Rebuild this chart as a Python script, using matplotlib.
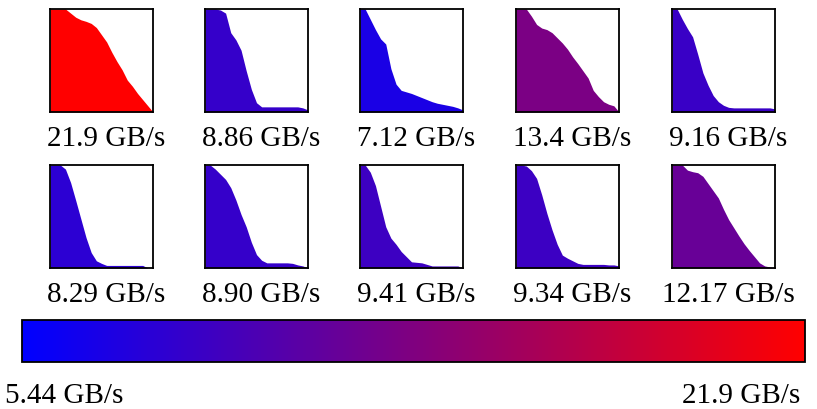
import numpy as np
import matplotlib
matplotlib.use('Agg')
from matplotlib import pyplot as plt
from matplotlib.colors import LinearSegmentedColormap, Normalize
from matplotlib.cm import ScalarMappable

plt.rcParams['font.family'] = 'Liberation Serif'

# sampled positions along each panel (fraction of width)
xs = np.linspace(0, 1, 21)

bw_labels = ['21.9', '8.86', '7.12', '13.4', '9.16',
             '8.29', '8.90', '9.41', '9.34', '12.17']
bw = [21.9, 8.86, 7.12, 13.4, 9.16, 8.29, 8.90, 9.41, 9.34, 12.17]
bw_min = 5.44
bw_max = 21.9

# curve heights (fraction of panel height) read at xs
c1 = [1.0, 1.0, 1.0, 1.0, 0.96, 0.92, 0.895, 0.88, 0.86, 0.82, 0.75,
      0.68, 0.58, 0.49, 0.41, 0.31, 0.25, 0.18, 0.12, 0.06, 0.0]
c2 = [1.0, 1.0, 1.0, 0.99, 0.96, 0.77, 0.70, 0.60, 0.40, 0.22, 0.09,
      0.05, 0.05, 0.05, 0.05, 0.05, 0.05, 0.05, 0.05, 0.04, 0.02]
c3 = [1.0, 1.0, 0.90, 0.80, 0.71, 0.66, 0.42, 0.27, 0.21, 0.195, 0.18,
      0.16, 0.14, 0.12, 0.10, 0.085, 0.075, 0.065, 0.055, 0.04, 0.02]
c4 = [1.0, 1.0, 1.0, 0.93, 0.85, 0.815, 0.80, 0.77, 0.72, 0.67, 0.61,
      0.535, 0.47, 0.40, 0.33, 0.21, 0.15, 0.10, 0.075, 0.06, 0.0]
c5 = [1.0, 1.0, 0.90, 0.81, 0.73, 0.56, 0.38, 0.26, 0.16, 0.10, 0.065,
      0.045, 0.04, 0.04, 0.04, 0.04, 0.04, 0.04, 0.04, 0.04, 0.03]
c6 = [1.0, 1.0, 1.0, 0.96, 0.83, 0.655, 0.475, 0.295, 0.15, 0.07, 0.045,
      0.025, 0.025, 0.025, 0.025, 0.025, 0.025, 0.025, 0.025, 0.0, 0.0]
c7 = [1.0, 1.0, 0.96, 0.91, 0.86, 0.78, 0.66, 0.52, 0.40, 0.25, 0.13,
      0.075, 0.05, 0.05, 0.05, 0.05, 0.05, 0.045, 0.03, 0.02, 0.0]
c8 = [1.0, 1.0, 0.93, 0.80, 0.60, 0.40, 0.29, 0.23, 0.16, 0.11, 0.06,
      0.055, 0.05, 0.035, 0.02, 0.02, 0.02, 0.02, 0.02, 0.02, 0.0]
c9 = [1.0, 1.0, 0.99, 0.945, 0.87, 0.71, 0.53, 0.37, 0.23, 0.125, 0.095,
      0.07, 0.045, 0.035, 0.035, 0.035, 0.035, 0.035, 0.03, 0.03, 0.02]
c10 = [1.0, 1.0, 1.0, 0.95, 0.935, 0.925, 0.89, 0.82, 0.75, 0.68, 0.57,
       0.47, 0.39, 0.31, 0.235, 0.17, 0.11, 0.05, 0.02, 0.01, 0.0]
curves = [c1, c2, c3, c4, c5, c6, c7, c8, c9, c10]

cmap = LinearSegmentedColormap.from_list('br', ['#0000ff', '#ff0000'])
norm = Normalize(vmin=bw_min, vmax=bw_max)

W, H = 817, 409
fig = plt.figure(figsize=(W / 100, H / 100), dpi=100)

lefts = [50, 205, 360, 516, 672]
tops = [9, 165]
size = 103

for i, (curve, v, lab) in enumerate(zip(curves, bw, bw_labels)):
    row, col = divmod(i, 5)
    x0 = lefts[col]
    y0 = tops[row]
    ax = fig.add_axes([x0 / W, 1 - (y0 + size) / H, size / W, size / H])
    ax.fill_between(xs, curve, 0, color=cmap(norm(v)), linewidth=0)
    ax.set_xlim(0, 1)
    ax.set_ylim(0, 1)
    ax.set_xticks([])
    ax.set_yticks([])
    for s in ax.spines.values():
        s.set_linewidth(1.3)
    fig.text((x0 + size / 2 + 5) / W, 1 - (y0 + size + 27) / H,
             f'{lab} GB/s', ha='center', va='center', fontsize=21)

# colour bar
cax = fig.add_axes([22 / W, 1 - 362 / H, (805 - 22) / W, 42 / H])
cb = fig.colorbar(ScalarMappable(norm=norm, cmap=cmap), cax=cax,
                  orientation='horizontal')
cb.set_ticks([])
cb.outline.set_linewidth(1.3)

fig.text(5 / W, 1 - 396 / H, f'{bw_min} GB/s', ha='left', va='center', fontsize=21)
fig.text(800 / W, 1 - 396 / H, f'{bw_max} GB/s', ha='right', va='center', fontsize=21)

fig.savefig('out.png', dpi=100)
